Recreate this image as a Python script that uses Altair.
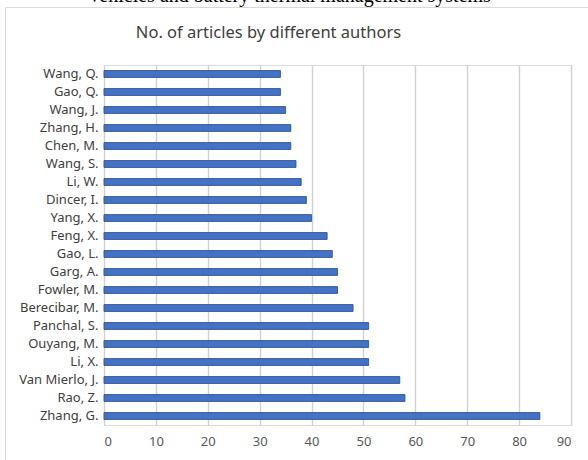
import altair as alt
import pandas as pd

authors = ["Wang, Q.", "Gao, Q.", "Wang, J.", "Zhang, H.", "Chen, M.", "Wang, S.",
           "Li, W.", "Dincer, I.", "Yang, X.", "Feng, X.", "Gao, L.", "Garg, A.",
           "Fowler, M.", "Berecibar, M.", "Panchal, S.", "Ouyang, M.", "Li, X.",
           "Van Mierlo, J.", "Rao, Z.", "Zhang, G."]
articles = [34, 34, 35, 36, 36, 37, 38, 39, 40, 43, 44, 45, 45, 48, 51, 51, 51, 57, 58, 84]
x_ticks = [0, 10, 20, 30, 40, 50, 60, 70, 80, 90]

title_text = "No. of articles by different authors"
top_text = "Vehicles and battery thermal management systems"

df = pd.DataFrame({"author": authors, "articles": articles})

W, H = 467, 360
PL, PT, PR, PB = 104, 65, 17, 35

border = alt.Chart(pd.DataFrame({"a": [0]})).mark_rect(
    fill="white", fillOpacity=0, stroke="#d9d9d9", strokeWidth=1
).encode(
    x=alt.value(-PL + 5.5), x2=alt.value(W + 60),
    y=alt.value(-PT + 7.5), y2=alt.value(H + 60)
)

bars = alt.Chart(df).mark_bar(
    color="#4472C4", stroke="#2F5597", strokeWidth=0.9
).encode(
    x=alt.X("articles:Q",
            scale=alt.Scale(domain=[0, 90], nice=False, zero=True),
            axis=alt.Axis(values=x_ticks, title=None, grid=True, gridColor="#d0d0d0",
                          gridWidth=1.4, domain=False, ticks=False, labelPadding=10,
                          labelFont="Noto Sans", labelFontSize=13, labelColor="#595959")),
    y=alt.Y("author:N", sort=authors,
            scale=alt.Scale(paddingInner=0.62, paddingOuter=0.31),
            axis=alt.Axis(title=None, domain=False, ticks=False, labelPadding=6,
                          labelFont="Noto Sans", labelFontSize=13, labelColor="#404040"))
)

title = alt.Chart(pd.DataFrame({"t": [title_text]})).mark_text(
    font="Noto Sans", fontSize=16.5, color="#404040", align="center", baseline="middle"
).encode(
    text="t:N", x=alt.value(268.5 - PL), y=alt.value(33 - PT)
)

top = alt.Chart(pd.DataFrame({"t": [top_text]})).mark_text(
    font="Liberation Serif", fontSize=20, color="#000000", align="center", baseline="alphabetic"
).encode(
    text="t:N", x=alt.value(289 - PL), y=alt.value(2 - PT)
)

chart = alt.layer(border, bars, title, top).properties(
    width=W, height=H,
    autosize=alt.AutoSizeParams(type="none"),
    padding={"left": PL, "top": PT, "right": PR, "bottom": PB}
).configure_view(stroke=None).configure(background="white")

chart.save("out.html", embed_options={"renderer": "svg", "actions": False})
